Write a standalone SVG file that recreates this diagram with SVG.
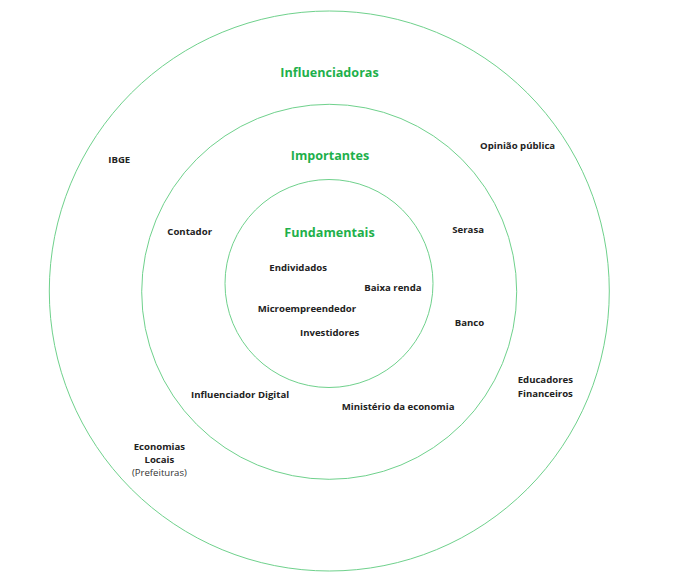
<svg xmlns="http://www.w3.org/2000/svg" width="676" height="588" viewBox="0 0 676 588">
<style>
.ring{fill:none;stroke:#6fd18c;stroke-width:1}
.h{font-family:"Open Sans","Noto Sans",sans-serif;font-weight:700;font-size:12.6px;fill:#1eb04b;text-anchor:middle}
.t{font-family:"Open Sans","Noto Sans",sans-serif;font-weight:700;font-size:9.6px;fill:#222}
.r{font-family:"Open Sans","Noto Sans",sans-serif;font-weight:400;font-size:9.6px;fill:#333}
.m{text-anchor:middle}
</style>
<rect width="676" height="588" fill="#fff"/>
<g id="rings">
<circle id="outer" class="ring" cx="329.3" cy="291" r="280"/>
<circle id="middle" class="ring" cx="329.2" cy="291.8" r="187.5"/>
<circle id="inner" class="ring" cx="329" cy="283.5" r="104"/>
</g>
<g id="headings">
<text class="h" x="329.5" y="77">Influenciadoras</text>
<text class="h" x="330" y="159.5">Importantes</text>
<text class="h" x="329.5" y="236.5">Fundamentais</text>
</g>
<g id="fundamentais">
<text class="t" x="269.3" y="271">Endividados</text>
<text class="t" x="364.3" y="290.5">Baixa renda</text>
<text class="t" x="257.7" y="312">Microempreendedor</text>
<text class="t" x="300" y="336">Investidores</text>
</g>
<g id="importantes">
<text class="t" x="167.3" y="235">Contador</text>
<text class="t" x="452.3" y="232.5">Serasa</text>
<text class="t" x="454.7" y="325.5">Banco</text>
<text class="t" x="191" y="398">Influenciador Digital</text>
<text class="t" x="341.7" y="410">Ministério da economia</text>
</g>
<g id="influenciadoras">
<text class="t" x="108.3" y="162.5">IBGE</text>
<text class="t" x="480" y="148.5">Opinião pública</text>
<text class="t" x="517.7" y="383">Educadores</text>
<text class="t" x="517.7" y="397">Financeiros</text>
<text class="t m" x="159.4" y="449.5">Economias</text>
<text class="t m" x="159.4" y="463">Locais</text>
<text class="r m" x="159.4" y="475.5">(Prefeituras)</text>
</g>
</svg>
